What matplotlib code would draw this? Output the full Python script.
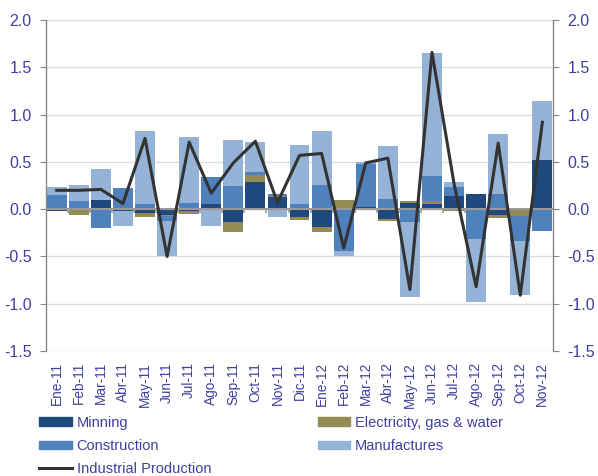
import numpy as np
import matplotlib
matplotlib.use('Agg')
import matplotlib.pyplot as plt
import matplotlib.patches as mpatches
from matplotlib.lines import Line2D

plt.rcParams['font.family'] = ['Liberation Sans', 'DejaVu Sans']

months = ['Ene-11', 'Feb-11', 'Mar-11', 'Abr-11', 'May-11', 'Jun-11', 'Jul-11',
          'Ago-11', 'Sep-11', 'Oct-11', 'Nov-11', 'Dic-11', 'Ene-12', 'Feb-12',
          'Mar-12', 'Abr-12', 'May-12', 'Jun-12', 'Jul-12', 'Ago-12', 'Sep-12',
          'Oct-12', 'Nov-12']

minning = [-0.02, 0.00, 0.10, -0.02, -0.04, -0.06, -0.02, 0.05, -0.14, 0.29,
           0.13, -0.08, -0.19, 0.00, 0.02, -0.10, 0.065, 0.055, 0.14, 0.16,
           -0.06, 0.00, 0.52]
electricity = [0.00, -0.06, 0.00, 0.00, -0.04, -0.015, -0.035, 0.00, -0.10, 0.07,
               0.01, -0.03, -0.05, 0.10, 0.00, -0.025, 0.02, 0.03, -0.02, 0.00,
               -0.035, -0.07, -0.01]
construction = [0.15, 0.09, -0.20, 0.22, 0.05, -0.045, 0.07, 0.29, 0.25, 0.035,
                0.02, 0.05, 0.26, -0.44, 0.46, 0.11, -0.14, 0.27, 0.10, -0.31,
                0.16, -0.265, -0.22]
manufactures = [0.08, 0.17, 0.33, -0.16, 0.78, -0.38, 0.69, -0.18, 0.48, 0.32,
                -0.08, 0.63, 0.57, -0.05, 0.015, 0.56, -0.79, 1.30, 0.05, -0.67,
                0.64, -0.57, 0.63]
industrial = [0.20, 0.20, 0.21, 0.06, 0.75, -0.50, 0.71, 0.17, 0.49, 0.72,
              0.07, 0.57, 0.59, -0.41, 0.49, 0.54, -0.85, 1.66, 0.27, -0.82,
              0.70, -0.91, 0.92]

series = [
    ('Minning', minning, '#1F497D'),
    ('Electricity, gas & water', electricity, '#948A54'),
    ('Construction', construction, '#4F81BD'),
    ('Manufactures', manufactures, '#95B3D7'),
]

text_color = '#3F3FA0'
x = np.arange(len(months))

fig = plt.figure(figsize=(5.98, 4.76), dpi=100)
ax = fig.add_axes([0.0764, 0.2626, 0.849, 0.695])

# stack positives and negatives separately
pos_bottom = np.zeros(len(months))
neg_bottom = np.zeros(len(months))
for name, vals, color in series:
    v = np.array(vals, dtype=float)
    bottom = np.where(v >= 0, pos_bottom, neg_bottom)
    ax.bar(x, v, width=0.9, bottom=bottom, color=color, zorder=2)
    pos_bottom += np.where(v >= 0, v, 0)
    neg_bottom += np.where(v < 0, v, 0)

ax.plot(x, industrial, color='#333333', lw=2.2, zorder=4)

ax.axhline(0, color='#999999', lw=1.5, zorder=3)
ax.vlines(x[:-1] + 0.5, -0.035, 0, color='#999999', lw=1.2, zorder=3)

ax.set_xlim(-0.5, len(months) - 0.5)
ax.set_ylim(-1.5, 2.0)
ax.set_yticks(np.arange(-1.5, 2.01, 0.5))
ax.set_yticklabels([f'{t:.1f}' for t in np.arange(-1.5, 2.01, 0.5)])
ax.yaxis.grid(True, color='#DDDDDD', lw=1, zorder=0)
ax.set_axisbelow(True)

ax.set_xticks(x)
ax.set_xticklabels(months, rotation=90, fontsize=9.8, color=text_color)
ax.tick_params(axis='x', length=0, pad=8)
ax.tick_params(axis='y', direction='out', length=4, color='#888888',
               labelsize=11.5, labelcolor=text_color, pad=6,
               right=True, labelright=True)

for s in ['top', 'bottom']:
    ax.spines[s].set_visible(False)
for s in ['left', 'right']:
    ax.spines[s].set_color('#888888')
    ax.spines[s].set_linewidth(1.0)

handles = [
    mpatches.Patch(color='#1F497D', label='Minning'),
    mpatches.Patch(color='#4F81BD', label='Construction'),
    Line2D([], [], color='#333333', lw=2.2, label='Industrial Production'),
    mpatches.Patch(color='#948A54', label='Electricity, gas & water'),
    mpatches.Patch(color='#95B3D7', label='Manufactures'),
]
leg = fig.legend(handles=handles, loc='upper left', bbox_to_anchor=(0.066, 0.126),
                 ncol=2, frameon=False, fontsize=10.5, handlelength=2.2,
                 handleheight=0.55, handletextpad=0.35, columnspacing=7.3,
                 labelspacing=0.62, borderpad=0, borderaxespad=0)
for t in leg.get_texts():
    t.set_color(text_color)

fig.savefig('out.png', dpi=100)
